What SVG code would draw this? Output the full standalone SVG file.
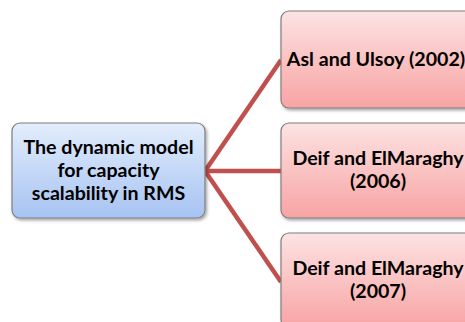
<svg xmlns="http://www.w3.org/2000/svg" width="465" height="322" viewBox="0 0 465 322">
  <defs>
    <linearGradient id="blueFill" x1="0" y1="0" x2="0" y2="1">
      <stop offset="0" stop-color="#E3EDFC"/>
      <stop offset="1" stop-color="#A6C3F2"/>
    </linearGradient>
    <linearGradient id="redFill" x1="0" y1="0" x2="0" y2="1">
      <stop offset="0" stop-color="#FDE3E3"/>
      <stop offset="1" stop-color="#F8A3A3"/>
    </linearGradient>
    <filter id="shadow" x="-10%" y="-10%" width="130%" height="130%">
      <feDropShadow dx="1.5" dy="2" stdDeviation="1.5" flood-color="#000" flood-opacity="0.35"/>
    </filter>
  </defs>
  <style>
    .box { stroke: #7F7F7F; stroke-width: 1.2; filter: url(#shadow); }
    .blue { fill: url(#blueFill); }
    .red { fill: url(#redFill); }
    .label { font-family: Lato, "Liberation Sans", sans-serif; font-weight: bold; font-size: 19.6px; fill: #000; text-anchor: middle; }
    .link { stroke: #C0504D; stroke-width: 4.5; fill: none; stroke-linecap: butt; }
  </style>
  <rect width="465" height="322" fill="#FFFFFF"/>

  <!-- connectors from the root node to each reference -->
  <g id="connectors">
    <path class="link" d="M205,171 L281,60"/>
    <path class="link" d="M205,171 L281,171"/>
    <path class="link" d="M205,171 L281,282"/>
  </g>

  <g id="root">
    <rect class="box blue" x="12" y="123" width="193" height="95" rx="8"/>
    <text class="label" x="108.5" y="154">The dynamic model</text>
    <text class="label" x="108.5" y="177">for capacity</text>
    <text class="label" x="108.5" y="200">scalability in RMS</text>
  </g>

  <g id="asl-ulsoy-2002">
    <rect class="box red" x="281" y="11" width="193" height="97" rx="8"/>
    <text class="label" x="376" y="66">Asl and Ulsoy (2002)</text>
  </g>

  <g id="deif-elmaraghy-2006">
    <rect class="box red" x="281" y="123" width="193" height="95" rx="8"/>
    <text class="label" x="378" y="165">Deif and ElMaraghy</text>
    <text class="label" x="378" y="188">(2006)</text>
  </g>

  <g id="deif-elmaraghy-2007">
    <rect class="box red" x="281" y="233" width="193" height="95" rx="8"/>
    <text class="label" x="378" y="275">Deif and ElMaraghy</text>
    <text class="label" x="378" y="298">(2007)</text>
  </g>
</svg>
